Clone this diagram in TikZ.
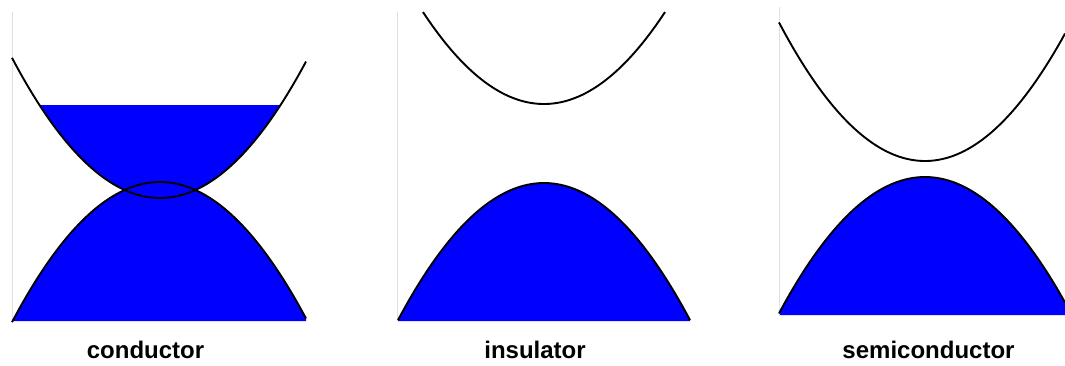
\documentclass[tikz,border=0pt]{standalone}
\usepackage{fontspec}
\setmainfont{Liberation Sans}
\usetikzlibrary{positioning}
\definecolor{bandblue}{RGB}{0,0,255}

\begin{document}
\begin{tikzpicture}[x=1pt,y=-1pt, font=\bfseries\fontsize{24}{28}\selectfont,
  curve/.style={draw=black, line width=1.9pt},
  filled/.style={fill=bandblue},
  axisline/.style={draw=black!12, line width=0.9pt}]
\useasboundingbox (0,0) rectangle (1065,365);

% conductor
\fill[filled] plot[domain=12:306, samples=80] (\x,{182+0.64*((\x-160)/10)^2}) -- (306,321) -- (12,321) -- cycle;
\fill[filled] (39.5,105) -- plot[domain=39.5:280.5, samples=80] (\x,{198-0.64*((\x-160)/10)^2}) -- cycle;
\draw[axisline] (12,12) -- (12,321);
\draw[curve] plot[domain=12:306, samples=80] (\x,{198-0.64*((\x-160)/10)^2});
\draw[curve] plot[domain=12:306, samples=80] (\x,{182+0.64*((\x-160)/10)^2});

% insulator
\fill[filled] plot[domain=398:690, samples=80] (\x,{183+0.643*((\x-544)/10)^2}) -- (690,321) -- (398,321) -- cycle;
\draw[axisline] (397,12) -- (397,321);
\draw[curve] plot[domain=423:665, samples=80] (\x,{104-0.628*((\x-544)/10)^2});
\draw[curve] plot[domain=398:690, samples=80] (\x,{183+0.643*((\x-544)/10)^2});

% semiconductor
\fill[filled] plot[domain=779:1065, samples=80] (\x,{177+0.64*((\x-925)/10)^2}) -- (1065,315) -- (779,315) -- cycle;
\draw[axisline] (779,7) -- (779,315);
\draw[curve] plot[domain=779:1065, samples=80] (\x,{161-0.65*((\x-925)/10)^2});
\draw[curve] plot[domain=779:1065, samples=80] (\x,{177+0.64*((\x-925)/10)^2});

% labels
\node[anchor=base] (cond) at (145.5,358) {conductor};
\node[anchor=base] (insul) at (535,358) {insulator};
\node[anchor=base] (semi) at (928.5,358) {semiconductor};
\end{tikzpicture}
\end{document}
